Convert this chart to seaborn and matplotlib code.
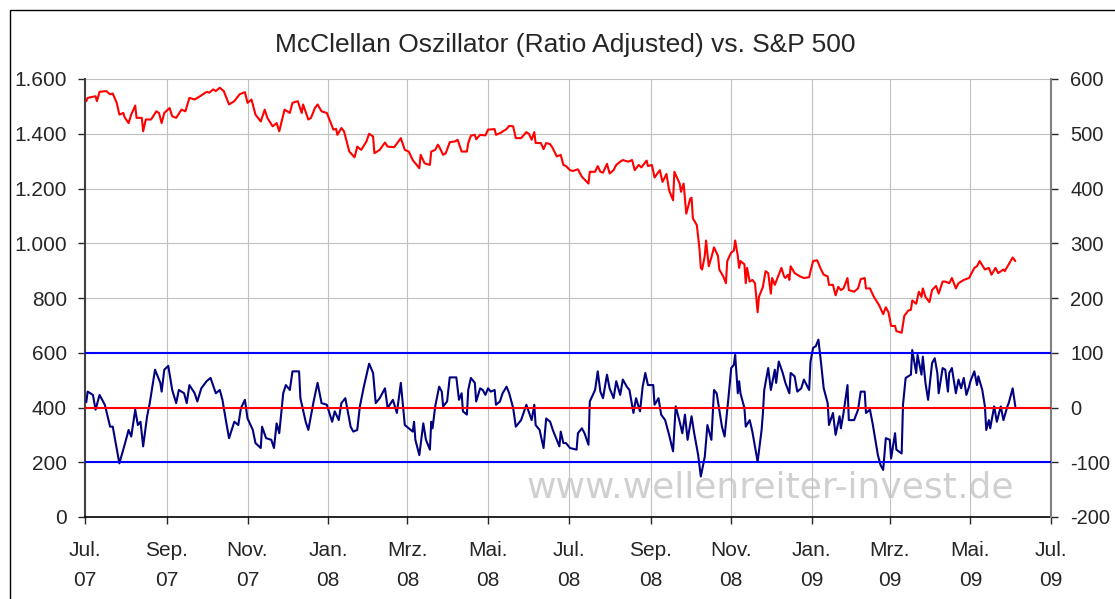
import matplotlib
matplotlib.use('Agg')
import pandas as pd
import matplotlib.pyplot as plt
import matplotlib.ticker as mticker
from matplotlib.patches import Rectangle
import seaborn as sns

# S&P 500 (left axis)
spx_dates = [
    '2007-07-02', '2007-07-03', '2007-07-09', '2007-07-10', '2007-07-12', '2007-07-17', '2007-07-20', '2007-07-22',
    '2007-07-25', '2007-07-27', '2007-07-30', '2007-07-31', '2007-08-03', '2007-08-05', '2007-08-08', '2007-08-09',
    '2007-08-13', '2007-08-14', '2007-08-16', '2007-08-20', '2007-08-24', '2007-08-26', '2007-08-28', '2007-08-30',
    '2007-09-03', '2007-09-05', '2007-09-08', '2007-09-12', '2007-09-15', '2007-09-18', '2007-09-22', '2007-09-24',
    '2007-09-27', '2007-10-01', '2007-10-03', '2007-10-06', '2007-10-08', '2007-10-11', '2007-10-14', '2007-10-18',
    '2007-10-22', '2007-10-26', '2007-10-30', '2007-11-01', '2007-11-04', '2007-11-07', '2007-11-11', '2007-11-14',
    '2007-11-16', '2007-11-20', '2007-11-23', '2007-11-25', '2007-11-29', '2007-12-03', '2007-12-05', '2007-12-09',
    '2007-12-12', '2007-12-13', '2007-12-17', '2007-12-19', '2007-12-22', '2007-12-24', '2007-12-27', '2007-12-31',
    '2008-01-02', '2008-01-05', '2008-01-07', '2008-01-08', '2008-01-11', '2008-01-13', '2008-01-17', '2008-01-21',
    '2008-01-23', '2008-01-26', '2008-01-30', '2008-02-01', '2008-02-04', '2008-02-05', '2008-02-09', '2008-02-13',
    '2008-02-15', '2008-02-20', '2008-02-25', '2008-02-28', '2008-03-02', '2008-03-05', '2008-03-08', '2008-03-10',
    '2008-03-11', '2008-03-14', '2008-03-18', '2008-03-19', '2008-03-22', '2008-03-24', '2008-03-25', '2008-03-28',
    '2008-03-30', '2008-04-02', '2008-04-06', '2008-04-08', '2008-04-11', '2008-04-15', '2008-04-16', '2008-04-18',
    '2008-04-21', '2008-04-22', '2008-04-25', '2008-04-29', '2008-05-01', '2008-05-06', '2008-05-07', '2008-05-10',
    '2008-05-15', '2008-05-17', '2008-05-20', '2008-05-22', '2008-05-26', '2008-05-30', '2008-06-01', '2008-06-03',
    '2008-06-05', '2008-06-06', '2008-06-10', '2008-06-12', '2008-06-14', '2008-06-17', '2008-06-19', '2008-06-22',
    '2008-06-25', '2008-06-27', '2008-06-29', '2008-07-02', '2008-07-04', '2008-07-08', '2008-07-11', '2008-07-16',
    '2008-07-17', '2008-07-21', '2008-07-23', '2008-07-25', '2008-07-27', '2008-07-30', '2008-08-01', '2008-08-04',
    '2008-08-06', '2008-08-09', '2008-08-11', '2008-08-15', '2008-08-18', '2008-08-20', '2008-08-23', '2008-08-25',
    '2008-08-29', '2008-08-30', '2008-09-02', '2008-09-04', '2008-09-08', '2008-09-10', '2008-09-13', '2008-09-15',
    '2008-09-18', '2008-09-19', '2008-09-23', '2008-09-24', '2008-09-26', '2008-09-28', '2008-10-01', '2008-10-02',
    '2008-10-03', '2008-10-06', '2008-10-08', '2008-10-09', '2008-10-10', '2008-10-12', '2008-10-13', '2008-10-15',
    '2008-10-17', '2008-10-19', '2008-10-22', '2008-10-23', '2008-10-26', '2008-10-28', '2008-10-29', '2008-11-01',
    '2008-11-03', '2008-11-04', '2008-11-06', '2008-11-07', '2008-11-08', '2008-11-11', '2008-11-12', '2008-11-13',
    '2008-11-15', '2008-11-17', '2008-11-19', '2008-11-21', '2008-11-22', '2008-11-25', '2008-11-27', '2008-11-29',
    '2008-12-01', '2008-12-02', '2008-12-04', '2008-12-06', '2008-12-09', '2008-12-11', '2008-12-12', '2008-12-14',
    '2008-12-15', '2008-12-16', '2008-12-19', '2008-12-23', '2008-12-26', '2008-12-30', '2008-12-31', '2009-01-02',
    '2009-01-05', '2009-01-08', '2009-01-10', '2009-01-13', '2009-01-14', '2009-01-17', '2009-01-19', '2009-01-21',
    '2009-01-23', '2009-01-25', '2009-01-28', '2009-01-29', '2009-02-02', '2009-02-05', '2009-02-07', '2009-02-10',
    '2009-02-11', '2009-02-14', '2009-02-17', '2009-02-21', '2009-02-24', '2009-02-26', '2009-02-28', '2009-03-02',
    '2009-03-05', '2009-03-06', '2009-03-10', '2009-03-12', '2009-03-15', '2009-03-17', '2009-03-18', '2009-03-21',
    '2009-03-23', '2009-03-25', '2009-03-26', '2009-03-28', '2009-03-31', '2009-04-02', '2009-04-05', '2009-04-07',
    '2009-04-10', '2009-04-12', '2009-04-15', '2009-04-17', '2009-04-20', '2009-04-22', '2009-04-26', '2009-04-30',
    '2009-05-04', '2009-05-06', '2009-05-08', '2009-05-12', '2009-05-15', '2009-05-17', '2009-05-20', '2009-05-22',
    '2009-05-26', '2009-05-27', '2009-05-30', '2009-06-02', '2009-06-04',
]
spx_values = [
    1519, 1531, 1537, 1519, 1553, 1556, 1544, 1547,
    1513, 1470, 1476, 1460, 1439, 1470, 1503, 1458,
    1458, 1409, 1452, 1452, 1482, 1476, 1439, 1476,
    1494, 1464, 1458, 1488, 1482, 1531, 1525, 1531,
    1540, 1553, 1550, 1562, 1556, 1568, 1556, 1507,
    1519, 1544, 1552, 1513, 1525, 1470, 1445, 1488,
    1458, 1427, 1439, 1409, 1488, 1476, 1513, 1519,
    1476, 1507, 1452, 1458, 1494, 1507, 1482, 1476,
    1452, 1415, 1418, 1396, 1421, 1409, 1335, 1314,
    1353, 1341, 1372, 1400, 1390, 1329, 1341, 1368,
    1353, 1351, 1384, 1341, 1335, 1304, 1286, 1274,
    1323, 1292, 1286, 1335, 1341, 1360, 1353, 1323,
    1329, 1369, 1372, 1378, 1335, 1335, 1366, 1393,
    1396, 1380, 1396, 1394, 1415, 1417, 1396, 1402,
    1417, 1429, 1427, 1384, 1384, 1406, 1399, 1378,
    1406, 1366, 1366, 1344, 1366, 1362, 1347, 1317,
    1323, 1286, 1282, 1267, 1264, 1270, 1243, 1218,
    1261, 1261, 1282, 1261, 1258, 1290, 1255, 1267,
    1286, 1298, 1304, 1298, 1304, 1267, 1286, 1277,
    1302, 1282, 1286, 1240, 1267, 1224, 1253, 1194,
    1157, 1261, 1218, 1188, 1218, 1108, 1163, 1166,
    1091, 1066, 979, 910, 904, 954, 1010, 916,
    948, 985, 954, 904, 879, 854, 935, 966,
    973, 1010, 954, 910, 935, 923, 854, 910,
    860, 866, 854, 748, 804, 841, 898, 891,
    816, 873, 848, 873, 910, 879, 873, 885,
    866, 916, 891, 879, 873, 876, 898, 935,
    938, 904, 885, 879, 848, 848, 810, 841,
    829, 835, 873, 829, 823, 835, 869, 873,
    835, 835, 804, 773, 741, 766, 748, 698,
    698, 679, 673, 735, 754, 757, 791, 779,
    823, 804, 835, 804, 785, 829, 844, 816,
    860, 860, 854, 873, 835, 854, 866, 873,
    910, 916, 935, 904, 910, 885, 910, 891,
    904, 898, 923, 948, 935,
]

# McClellan Oszillator (right axis)
osc_dates = [
    '2007-07-02', '2007-07-03', '2007-07-07', '2007-07-09', '2007-07-12', '2007-07-16', '2007-07-20', '2007-07-22',
    '2007-07-27', '2007-07-31', '2007-08-03', '2007-08-05', '2007-08-08', '2007-08-10', '2007-08-12', '2007-08-14',
    '2007-08-17', '2007-08-19', '2007-08-23', '2007-08-27', '2007-08-28', '2007-08-30', '2007-09-02', '2007-09-05',
    '2007-09-08', '2007-09-10', '2007-09-14', '2007-09-16', '2007-09-18', '2007-09-22', '2007-09-24', '2007-09-27',
    '2007-10-01', '2007-10-04', '2007-10-08', '2007-10-11', '2007-10-13', '2007-10-16', '2007-10-18', '2007-10-22',
    '2007-10-25', '2007-10-27', '2007-10-30', '2007-11-01', '2007-11-05', '2007-11-07', '2007-11-11', '2007-11-12',
    '2007-11-15', '2007-11-19', '2007-11-21', '2007-11-23', '2007-11-25', '2007-11-28', '2007-11-30', '2007-12-03',
    '2007-12-05', '2007-12-10', '2007-12-11', '2007-12-15', '2007-12-17', '2007-12-21', '2007-12-24', '2007-12-27',
    '2007-12-31', '2008-01-04', '2008-01-06', '2008-01-09', '2008-01-11', '2008-01-14', '2008-01-18', '2008-01-20',
    '2008-01-23', '2008-01-25', '2008-01-28', '2008-02-01', '2008-02-04', '2008-02-06', '2008-02-09', '2008-02-13',
    '2008-02-15', '2008-02-19', '2008-02-22', '2008-02-25', '2008-02-28', '2008-03-05', '2008-03-06', '2008-03-07',
    '2008-03-10', '2008-03-13', '2008-03-15', '2008-03-18', '2008-03-19', '2008-03-20', '2008-03-22', '2008-03-25',
    '2008-03-27', '2008-03-28', '2008-03-31', '2008-04-02', '2008-04-07', '2008-04-09', '2008-04-11', '2008-04-12',
    '2008-04-15', '2008-04-16', '2008-04-18', '2008-04-21', '2008-04-22', '2008-04-25', '2008-04-27', '2008-04-29',
    '2008-05-01', '2008-05-03', '2008-05-06', '2008-05-07', '2008-05-10', '2008-05-12', '2008-05-15', '2008-05-17',
    '2008-05-20', '2008-05-22', '2008-05-26', '2008-05-30', '2008-06-03', '2008-06-05', '2008-06-06', '2008-06-09',
    '2008-06-12', '2008-06-14', '2008-06-17', '2008-06-19', '2008-06-22', '2008-06-24', '2008-06-25', '2008-06-27',
    '2008-06-29', '2008-07-02', '2008-07-07', '2008-07-08', '2008-07-11', '2008-07-13', '2008-07-16', '2008-07-17',
    '2008-07-21', '2008-07-23', '2008-07-25', '2008-07-27', '2008-07-30', '2008-08-01', '2008-08-04', '2008-08-06',
    '2008-08-09', '2008-08-11', '2008-08-14', '2008-08-16', '2008-08-19', '2008-08-21', '2008-08-24', '2008-08-26',
    '2008-08-28', '2008-08-30', '2008-09-03', '2008-09-04', '2008-09-07', '2008-09-09', '2008-09-12', '2008-09-15',
    '2008-09-18', '2008-09-20', '2008-09-23', '2008-09-25', '2008-09-27', '2008-09-29', '2008-10-02', '2008-10-04',
    '2008-10-07', '2008-10-09', '2008-10-12', '2008-10-14', '2008-10-17', '2008-10-19', '2008-10-21', '2008-10-25',
    '2008-10-27', '2008-10-30', '2008-11-01', '2008-11-03', '2008-11-04', '2008-11-06', '2008-11-07', '2008-11-08',
    '2008-11-11', '2008-11-12', '2008-11-15', '2008-11-17', '2008-11-21', '2008-11-24', '2008-11-25', '2008-11-26',
    '2008-11-29', '2008-12-01', '2008-12-04', '2008-12-05', '2008-12-07', '2008-12-10', '2008-12-12', '2008-12-15',
    '2008-12-16', '2008-12-19', '2008-12-21', '2008-12-24', '2008-12-26', '2008-12-30', '2008-12-31', '2009-01-02',
    '2009-01-04', '2009-01-06', '2009-01-08', '2009-01-10', '2009-01-13', '2009-01-14', '2009-01-17', '2009-01-19',
    '2009-01-22', '2009-01-23', '2009-01-25', '2009-01-28', '2009-01-29', '2009-02-02', '2009-02-05', '2009-02-07',
    '2009-02-10', '2009-02-11', '2009-02-14', '2009-02-16', '2009-02-20', '2009-02-22', '2009-02-24', '2009-02-26',
    '2009-03-01', '2009-03-02', '2009-03-05', '2009-03-06', '2009-03-10', '2009-03-11', '2009-03-13', '2009-03-17',
    '2009-03-18', '2009-03-21', '2009-03-22', '2009-03-25', '2009-03-26', '2009-03-28', '2009-03-30', '2009-04-02',
    '2009-04-04', '2009-04-06', '2009-04-07', '2009-04-10', '2009-04-12', '2009-04-14', '2009-04-15', '2009-04-17',
    '2009-04-20', '2009-04-22', '2009-04-24', '2009-04-26', '2009-04-28', '2009-04-30', '2009-05-01', '2009-05-04',
    '2009-05-06', '2009-05-07', '2009-05-10', '2009-05-12', '2009-05-13', '2009-05-15', '2009-05-16', '2009-05-19',
    '2009-05-21', '2009-05-24', '2009-05-26', '2009-05-29', '2009-05-30', '2009-06-02', '2009-06-04',
]
osc_values = [
    10, 29, 23, -4, 23, 5, -35, -35,
    -102, -68, -41, -53, -4, -32, -26, -71,
    -16, 8, 69, 45, 29, 69, 76, 32,
    8, 32, 26, 8, 41, 26, 11, 35,
    48, 54, 26, 32, 14, -29, -56, -26,
    -32, -1, 14, -20, -41, -65, -74, -35,
    -56, -59, -74, -29, -47, 26, 41, 32,
    66, 66, 17, -26, -41, 11, 45, 8,
    5, -26, -7, -23, 8, 17, -35, -44,
    -41, 2, 38, 80, 63, 8, 17, 35,
    -1, 14, -10, 45, -32, -44, -26, -59,
    -87, -29, -59, -77, -26, -38, 2, 38,
    29, 2, 11, 55, 55, 14, 26, -7,
    -13, 32, 54, 45, 11, 35, 32, 23,
    35, 29, 32, 5, 11, 26, 38, 26,
    -1, -35, -23, 5, -23, 5, -32, -41,
    -74, -20, -26, -41, -59, -71, -44, -65,
    -65, -74, -77, -47, -38, -47, -68, 11,
    32, 66, 29, 17, 60, 35, 17, 48,
    23, 51, 38, 32, -10, 17, -7, 38,
    63, 41, 41, 5, 17, -13, -23, -50,
    -80, 2, -26, -47, -13, -59, -16, -47,
    -87, -126, -90, -32, -59, 32, 26, -35,
    -53, 20, 72, 78, 96, 26, 48, 26,
    -1, -35, -23, -44, -99, -41, -10, 32,
    72, 32, 69, 45, 84, 63, 45, 26,
    63, 57, 29, 35, 51, 32, 84, 109,
    112, 124, 81, 35, 8, -32, -10, -50,
    -16, -38, -10, 41, -23, -23, -4, 29,
    29, -10, -4, -29, -87, -105, -114, -56,
    -59, -93, -47, -77, -84, 5, 54, 60,
    105, 63, 96, 60, 93, 45, 14, 81,
    90, 63, 26, 72, 69, 29, 63, 72,
    26, 51, 35, 54, 23, 38, 48, 66,
    41, 57, 32, 2, -41, -23, -38, 2,
    -26, 2, -23, 2, 8, 35, 2,
]

# signal lines of the oscillator
band_levels = [100, 0, -100]
band_colors = ['#0000ff', '#ff0000', '#0000ff']

tick_dates = ['2007-07-01', '2007-09-01', '2007-11-01', '2008-01-01', '2008-03-01', '2008-05-01', '2008-07-01',
              '2008-09-01', '2008-11-01', '2009-01-01', '2009-03-01', '2009-05-01', '2009-07-01']
tick_labels = ['Jul.\n07', 'Sep.\n07', 'Nov.\n07', 'Jan.\n08', 'Mrz.\n08', 'Mai.\n08', 'Jul.\n08',
               'Sep.\n08', 'Nov.\n08', 'Jan.\n09', 'Mrz.\n09', 'Mai.\n09', 'Jul.\n09']

sns.set_style('white')
plt.rcParams['font.family'] = ['Liberation Sans', 'DejaVu Sans']
plt.rcParams['axes.unicode_minus'] = False

spx = pd.DataFrame({'Datum': pd.to_datetime(spx_dates), 'SPX': spx_values})
osc = pd.DataFrame({'Datum': pd.to_datetime(osc_dates), 'MCO': osc_values})

W, H = 1115, 599
fig = plt.figure(figsize=(W / 100, H / 100), dpi=100)
ax = fig.add_axes([85 / W, 1 - 517 / H, (1051 - 85) / W, (517 - 79) / H])
ax2 = ax.twinx()

# left axis: S&P 500
sns.lineplot(data=spx, x='Datum', y='SPX', ax=ax, color='#ff0000', lw=1.5,
             estimator=None, sort=False, zorder=3)
ax.set_ylim(0, 1600)
ax.set_yticks(range(0, 1601, 200))
ax.yaxis.set_major_formatter(mticker.FuncFormatter(lambda v, p: f'{int(v):,}'.replace(',', '.')))
ax.set_xlim(pd.Timestamp('2007-07-01'), pd.Timestamp('2009-07-01'))
ax.set_xticks(pd.to_datetime(tick_dates))
ax.set_xticklabels(tick_labels)
for lbl in ax.get_xticklabels():
    lbl.set_linespacing(1.75)
ax.set_xlabel('')
ax.set_ylabel('')
ax.grid(True, color='#c0c0c0', lw=0.8)
ax.set_axisbelow(True)
ax.tick_params(axis='y', direction='out', length=5, width=1, pad=8, labelsize=15, left=True)
ax.tick_params(axis='x', direction='out', length=5, width=1, pad=12, labelsize=15, bottom=True)

# watermark
ax.text(0.709, 0.068, 'www.wellenreiter-invest.de', transform=ax.transAxes, ha='center', va='center',
        fontsize=26, color='#d0d0d0', family='DejaVu Sans', zorder=0.2)

# right axis: oscillator
for lvl, col in zip(band_levels, band_colors):
    ax2.axhline(lvl, color=col, lw=1.5, zorder=4)
sns.lineplot(data=osc, x='Datum', y='MCO', ax=ax2, color='#000080', lw=1.5,
             estimator=None, sort=False, zorder=3)
ax2.set_ylim(-200, 600)
ax2.set_yticks(range(-200, 601, 100))
ax2.set_ylabel('')
ax2.tick_params(axis='y', direction='out', length=5, width=1, pad=9, labelsize=14.5, right=True)

for s in ['top', 'right']:
    ax.spines[s].set_visible(False)
for s in ['top', 'left', 'bottom']:
    ax2.spines[s].set_visible(False)
ax.spines['left'].set_color('#404040')
ax.spines['left'].set_linewidth(1.5)
ax.spines['bottom'].set_color('black')
ax.spines['bottom'].set_linewidth(1.2)
ax2.spines['right'].set_color('#808080')
ax2.spines['right'].set_linewidth(1.5)

fig.text(565 / W, 1 - 45 / H, 'McClellan Oszillator (Ratio Adjusted) vs. S&P 500',
         ha='center', va='center', fontsize=19)

# chart frame
fig.add_artist(Rectangle((10 / W, -0.5), 2, 1.5 - 10 / H, transform=fig.transFigure,
                         fill=False, edgecolor='black', lw=1))

fig.savefig('out.png', dpi=100)
